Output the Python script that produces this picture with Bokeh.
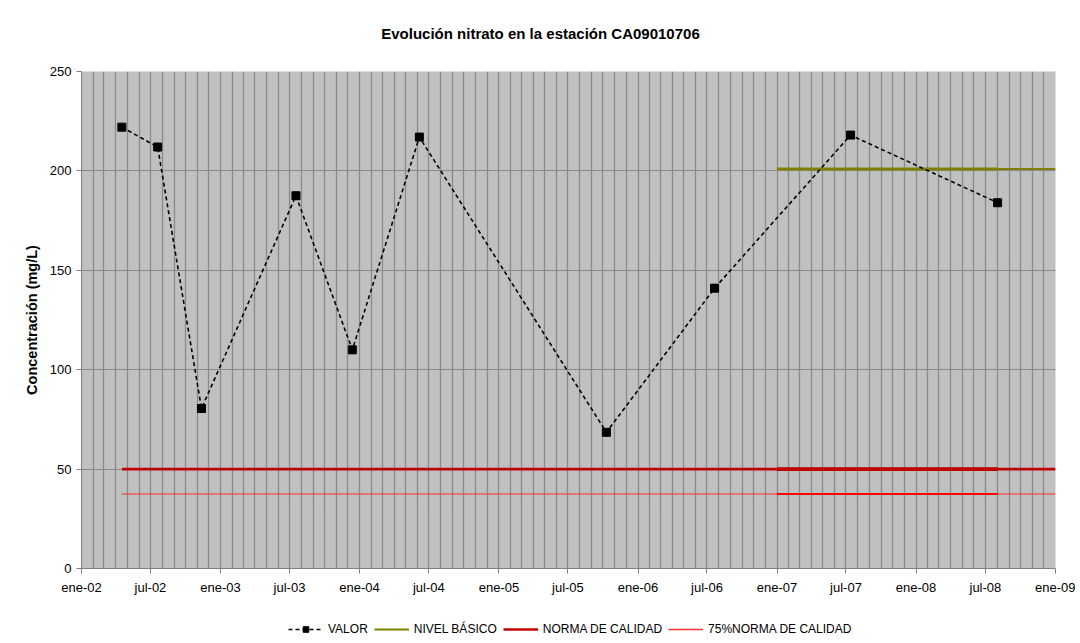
from datetime import datetime
from bokeh.plotting import figure
from bokeh.models import Range1d, FixedTicker, Legend, LegendItem, Label
from bokeh.layouts import column
from bokeh.embed import file_html
from bokeh.resources import INLINE

# ---- data ----
sample_dates = ["2002-04-17", "2002-07-20", "2002-11-12", "2003-07-18", "2003-12-13",
                "2004-06-06", "2005-10-10", "2006-07-21", "2007-07-13", "2008-08-02"]
valor = [222, 212, 80.5, 187.5, 110, 217, 68.5, 141, 218, 184]

nivel_basico_dates = ["2007-01-01", "2009-01-01"]
nivel_basico = [201, 201]
nivel_basico_overlay_dates = ["2007-01-01", "2008-08-02"]

norma_dates = ["2002-04-17", "2009-01-01"]
norma = [50, 50]
norma_overlay_dates = ["2007-01-01", "2008-08-02"]
norma75 = [37.5, 37.5]

xtick_dates = ["2002-01-01", "2002-07-01", "2003-01-01", "2003-07-01", "2004-01-01",
               "2004-07-01", "2005-01-01", "2005-07-01", "2006-01-01", "2006-07-01",
               "2007-01-01", "2007-07-01", "2008-01-01", "2008-07-01", "2009-01-01"]
xtick_labels = ["ene-02", "jul-02", "ene-03", "jul-03", "ene-04", "jul-04", "ene-05",
                "jul-05", "ene-06", "jul-06", "ene-07", "jul-07", "ene-08", "jul-08", "ene-09"]
ytick_values = [0, 50, 100, 150, 200, 250]

series_names = ["VALOR", "NIVEL BÁSICO", "NORMA DE CALIDAD", "75%NORMA DE CALIDAD"]
title_text = "Evolución nitrato en la estación CA09010706"
ylabel_text = "Concentración (mg/L)"

# ---- styles ----
C_VALOR = "black"
C_NB = "#808000"
C_NORMA = "#C00000"
C_N75 = "#FF3030"

# ---- helpers ----
EPOCH = datetime(1970, 1, 1)
def d(s):
    return datetime.strptime(s, "%Y-%m-%d")
def ms(dt):
    return (dt - EPOCH).total_seconds() * 1000.0

FONT = "Liberation Sans"

def strip(height):
    f = figure(width=1075, height=height, x_range=Range1d(0, 1), y_range=Range1d(0, 1),
               output_backend="svg", toolbar_location=None,
               x_axis_location=None, y_axis_location=None,
               min_border_left=0, min_border_right=0, min_border_top=0, min_border_bottom=0)
    f.grid.visible = False
    f.outline_line_color = None
    f.background_fill_color = "white"
    f.border_fill_color = "white"
    return f

# ---- title strip ----
HEAD_H = 50
head = strip(HEAD_H)
head.add_layout(Label(x=459, y=HEAD_H - 33, x_units="screen", y_units="screen",
                      text=title_text, text_align="center", text_baseline="middle",
                      text_font=FONT, text_font_size="15px", text_font_style="bold",
                      text_color="black"))

# ---- main chart ----
p = figure(width=1075, height=610 - HEAD_H, x_axis_type="datetime",
           x_range=Range1d(start=d("2002-01-01"), end=d("2009-01-01")),
           y_range=Range1d(start=0, end=250),
           output_backend="svg", toolbar_location=None,
           min_border_left=81, min_border_right=20, min_border_top=71 - HEAD_H,
           min_border_bottom=42)

p.background_fill_color = "#C0C0C0"
p.border_fill_color = "white"
p.outline_line_color = None

# grids
month_ticks = []
for yr in range(2002, 2009):
    for m in range(1, 13):
        month_ticks.append(ms(datetime(yr, m, 1)))
month_ticks.append(ms(datetime(2009, 1, 1)))
p.xgrid.ticker = FixedTicker(ticks=month_ticks)
p.xgrid.grid_line_color = "#8A8A8A"
p.xgrid.grid_line_width = 1.3
p.ygrid.ticker = FixedTicker(ticks=ytick_values)
p.ygrid.grid_line_color = "#8A8A8A"
p.ygrid.grid_line_width = 1

# axes
xt = [ms(d(s)) for s in xtick_dates]
p.xaxis.ticker = FixedTicker(ticks=xt)
p.xaxis.major_label_overrides = {t: lab for t, lab in zip(xt, xtick_labels)}
p.yaxis.ticker = FixedTicker(ticks=ytick_values)
for ax in (p.xaxis[0], p.yaxis[0]):
    ax.axis_line_color = "#808080"
    ax.major_tick_line_color = "#808080"
    ax.major_tick_out = 5
    ax.major_tick_in = 0
    ax.minor_tick_line_color = None
    ax.major_label_text_font = FONT
    ax.major_label_text_font_size = "13px"
    ax.major_label_text_color = "black"
p.xaxis.major_label_standoff = 6
p.yaxis.major_label_standoff = 5
p.yaxis.axis_label = ylabel_text
p.yaxis.axis_label_text_font = FONT
p.yaxis.axis_label_text_font_size = "14.5px"
p.yaxis.axis_label_text_font_style = "bold"
p.yaxis.axis_label_text_color = "black"
p.yaxis.axis_label_standoff = 7

# horizontal reference lines
p.line([d(s) for s in norma_dates], norma75, line_color=C_N75, line_width=1.5, line_alpha=0.7)
p.line([d(s) for s in norma_overlay_dates], norma75, line_color="#FF0000", line_width=2)
p.line([d(s) for s in norma_dates], norma, line_color=C_NORMA, line_width=2.7)
p.line([d(s) for s in norma_overlay_dates], norma, line_color=C_NORMA, line_width=3.8)
p.line([d(s) for s in nivel_basico_dates], nivel_basico, line_color=C_NB, line_width=2)
p.line([d(s) for s in nivel_basico_overlay_dates], nivel_basico, line_color=C_NB, line_width=3)

# data series
xs = [d(s) for s in sample_dates]
p.line(xs, valor, line_color=C_VALOR, line_width=1.6, line_dash="4 3")
p.scatter(xs, valor, marker="square", size=8, fill_color=C_VALOR, line_color=C_VALOR)

# ---- legend strip (separate figure under the chart) ----
lg = strip(30)
# legend-only renderers: data lies outside the visible range, only the legend shows them
off = [5, 6]
e_vl = lg.line(x=off, y=off, line_color=C_VALOR, line_width=1.6, line_dash="4 3")
e_vm = lg.scatter(x=off, y=off, marker="square", size=8, fill_color=C_VALOR, line_color=C_VALOR)
e_nb = lg.line(x=off, y=off, line_color=C_NB, line_width=2)
e_no = lg.line(x=off, y=off, line_color=C_NORMA, line_width=2.7)
e_75 = lg.line(x=off, y=off, line_color=C_N75, line_width=1.5)

legend = Legend(items=[
    LegendItem(label=series_names[0], renderers=[e_vl, e_vm]),
    LegendItem(label=series_names[1], renderers=[e_nb]),
    LegendItem(label=series_names[2], renderers=[e_no]),
    LegendItem(label=series_names[3], renderers=[e_75]),
], orientation="horizontal", location=(207, 4))
legend.background_fill_alpha = 0
legend.border_line_color = None
legend.label_text_font = FONT
legend.label_text_font_size = "12px"
legend.label_text_color = "black"
legend.glyph_width = 35
legend.glyph_height = 14
legend.label_height = 14
legend.label_standoff = 5
legend.spacing = 6
legend.padding = 0
legend.margin = 0
lg.add_layout(legend, "center")

layout = column(head, p, lg, spacing=0)
open("out.html", "w").write(file_html(layout, INLINE))
